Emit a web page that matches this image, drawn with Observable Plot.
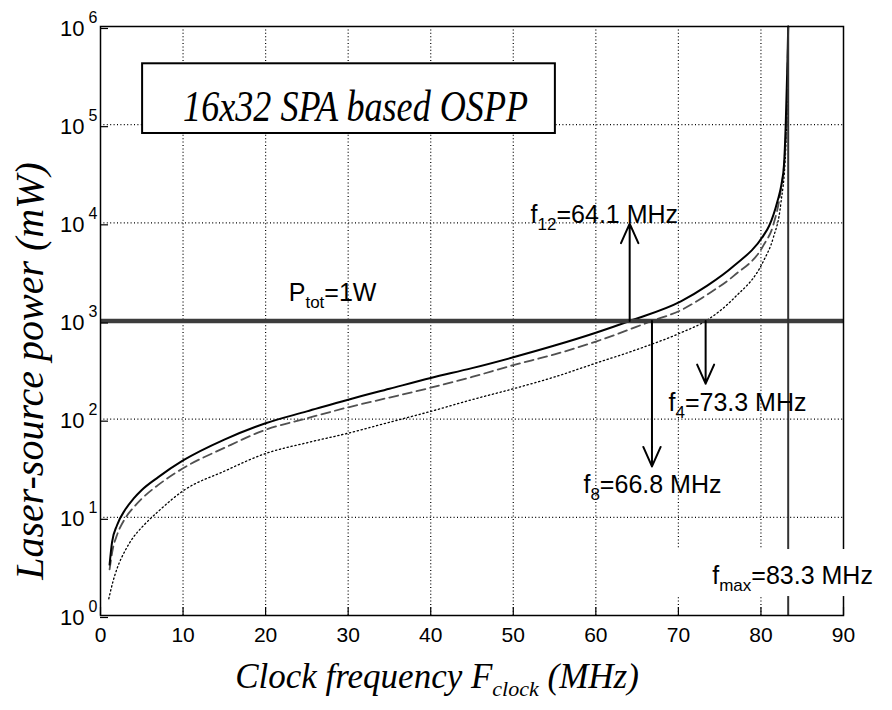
<!DOCTYPE html>
<html><head><meta charset="utf-8">
<script src="https://cdn.jsdelivr.net/npm/d3@7"></script>
<script src="https://cdn.jsdelivr.net/npm/@observablehq/plot@0.6"></script>
<style>body{margin:0;background:#fff}svg{display:block}</style>
</head><body><div id="chart"></div>
<script>
// ---- data ----
const f12Freq  = [1.1,1.4,2,3,4,5,7,10,15,20,25,30,35,40,45,50,55,60,64.1,70.3,73.5,76.7,80.3,81,82,82.5,82.8,83.0,83.2,83.3];
const f12Power = [3.3,5.6,8.3,12,15.5,19,25.7,38,62,91,120,158,204,263,331,427,562,759,1000,1585,2290,3630,7413,9333,16600,25100,39800,100000,398000,1000000];
const f8Freq   = [1.1,1.5,2,3,4,5,7,10,15,20,25,30,35,40,45,50,55,60,66.8,70.3,73.5,76.7,80.3,81.5,82.4,82.9,83.15,83.3];
const f8Power  = [2.95,4.8,6.6,9.8,12.6,15.5,21.4,31.6,51,78,102,132,166,209,269,355,457,617,1000,1288,1862,2884,5888,9550,21400,50100,158000,1000000];
const f4Freq   = [1.0,1.5,2,3,4,5,7,10,15,20,25,30,35,40,45,50,55,60,65,70.3,73.3,76.7,80.3,81.5,82.4,83.0,83.2,83.3];
const f4Power  = [1.48,2.2,3.0,4.6,6.3,7.9,11.5,18.6,29.5,44.7,57.5,72,93,120,158,204,269,372,513,759,1000,1698,4074,7079,15500,56200,200000,1000000];

const xTicks = [0,10,20,30,40,50,60,70,80,90];
const yExponents = [0,1,2,3,4,5,6];
const pTot = 1000;      // 1 W in mW
const fMax = 83.3;      // MHz

const arrowFreq = [64.1, 66.8, 73.3];
const arrowFrom = [1000, 1000, 1000];
const arrowTo   = [9800, 33, 230];

const annotBase  = ["f","f","f","f","P"];
const annotSub   = ["12","8","4","max","tot"];
const annotRest  = ["=64.1 MHz","=66.8 MHz","=73.3 MHz","=83.3 MHz","=1W"];
const annotFreq  = [52.1, 58.5, 68.8, 74.1, 22.8];
const annotPower = [10000, 17.6, 120, 2.07, 1600];

const titleText = "16x32 SPA based OSPP";
const titleBox = {x1: 5.1, x2: 55.1, y1: 81300, y2: 417000, tx: 30.9, ty: 110000};
const fmaxBox = {x1: 69, x2: 96, y1: 1.56, y2: 4.7};

const yLabel = "Laser-source power (mW)";
const xLabelParts = ["Clock frequency F", "clock", " (MHz)"];

// ---- derived tables ----
const yTicks = yExponents.map(e => 10 ** e);
const xGrid = xTicks.filter(v => v > xTicks[0] && v < xTicks[xTicks.length - 1]);
const yGrid = yTicks.filter(v => v > yTicks[0] && v < yTicks[yTicks.length - 1]);
const zip = (fx, py) => fx.map((f, i) => ({f, p: py[i]}));
const f12Rows = zip(f12Freq, f12Power);
const f8Rows = zip(f8Freq, f8Power);
const f4Rows = zip(f4Freq, f4Power);
const arrows = arrowFreq.map((f, i) => ({f, y1: arrowFrom[i], y2: arrowTo[i]}));
const annotParts = annotBase.map((b, i) => [b, annotSub[i], annotRest[i]]);
const annots = annotParts.map((parts, i) => ({f: annotFreq[i], p: annotPower[i], t: parts.join("")}));

const dotted = {stroke: "black", strokeWidth: 1.2, strokeDasharray: "1,2.4"};
const sans = "Liberation Sans, Arial, sans-serif";
const serif = "Liberation Serif, Times New Roman, serif";

const svg = Plot.plot({
  width: 892, height: 710,
  marginLeft: 100, marginRight: 49, marginTop: 26, marginBottom: 95,
  x: {domain: [0, 90]},
  y: {type: "log", domain: [1, 1e6]},
  style: {fontFamily: sans, background: "white", color: "black"},
  marks: [
    Plot.ruleX(xGrid, dotted),
    Plot.ruleY(yGrid, dotted),
    Plot.line(f4Rows, {x: "f", y: "p", stroke: "black", strokeWidth: 1.3, strokeDasharray: "1.3,2.7", curve: "monotone-x"}),
    Plot.line(f8Rows, {x: "f", y: "p", stroke: "#505050", strokeWidth: 1.8, strokeDasharray: "9,5", curve: "monotone-x"}),
    Plot.line(f12Rows, {x: "f", y: "p", stroke: "black", strokeWidth: 2, curve: "monotone-x"}),
    Plot.ruleY([pTot], {stroke: "#3c3c3c", strokeWidth: 4.5}),
    Plot.ruleX([fMax], {stroke: "#333", strokeWidth: 2}),
    Plot.frame({stroke: "black", strokeWidth: 1.5}),
    Plot.arrow(arrows, {x: "f", y1: "y1", y2: "y2", stroke: "black", strokeWidth: 2, headLength: 16, headAngle: 48}),
    Plot.rect([titleBox], {x1: "x1", x2: "x2", y1: "y1", y2: "y2", fill: "white", stroke: "black", strokeWidth: 2}),
    Plot.text([titleBox], {x: "tx", y: "ty", text: () => titleText, fontFamily: serif, fontStyle: "italic", fontSize: 44, textAnchor: "middle", lineAnchor: "bottom"}),
    Plot.rect([fmaxBox], {x1: "x1", x2: "x2", y1: "y1", y2: "y2", fill: "white"}),
    Plot.text(annots, {x: "f", y: "p", text: "t", fontSize: 25, textAnchor: "start", lineAnchor: "bottom", fill: "black"}),
    Plot.axisX({ticks: xTicks, tickSize: -8, tickPadding: 20, label: null, fontSize: 21, strokeWidth: 1.2}),
    Plot.axisY({ticks: yTicks, tickSize: -8, tickPadding: 24, tickFormat: () => "10", label: null, fontSize: 22, dy: 2, strokeWidth: 1.2}),
    Plot.text(yTicks, {y: d => d, text: (d, i) => String(yExponents[i]), frameAnchor: "left", dx: -12, dy: -4, textAnchor: "start", lineAnchor: "bottom", fontSize: 16}),
    Plot.text([yLabel], {frameAnchor: "left", rotate: -90, dx: -58, dy: 50, fontFamily: serif, fontStyle: "italic", fontSize: 40, textAnchor: "middle", lineAnchor: "bottom"}),
    Plot.text([xLabelParts.join("")], {frameAnchor: "bottom", dx: -35, dy: 72, fontFamily: serif, fontStyle: "italic", fontSize: 35, textAnchor: "middle", lineAnchor: "bottom"})
  ]
});

// rich text: subscripts as tspans, matched by their text content
function subscript(fullText, parts, subSize, shift) {
  d3.select(svg).selectAll("text").filter(function() { return this.textContent === fullText; }).each(function() {
    const t = d3.select(this);
    t.text(null);
    t.append("tspan").text(parts[0]);
    t.append("tspan").attr("dy", shift).attr("font-size", subSize).text(parts[1]);
    t.append("tspan").attr("dy", -shift).text(parts[2]);
  });
}
annotParts.forEach(parts => subscript(parts.join(""), parts, 17, 7));
subscript(xLabelParts.join(""), xLabelParts, 22, 8);

// condensed serif title as in the reference
d3.select(svg).selectAll("text").filter(function() { return this.textContent === titleText; })
  .attr("textLength", 345).attr("lengthAdjust", "spacingAndGlyphs");

document.getElementById("chart").appendChild(svg);
</script>
</body></html>
